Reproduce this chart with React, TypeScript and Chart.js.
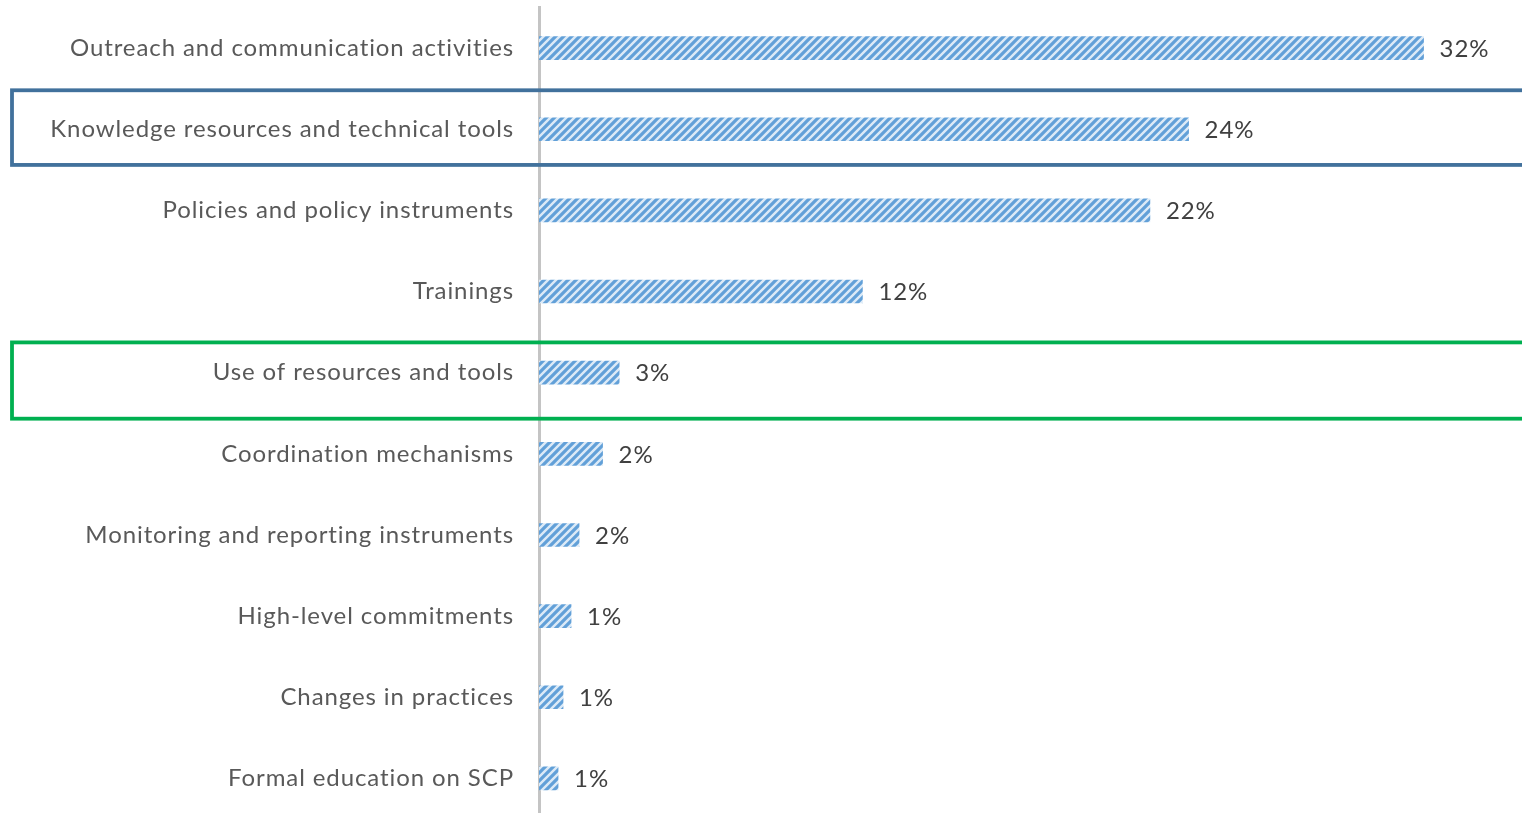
import React, { useEffect, useRef } from "react";
import { Chart, registerables } from "chart.js";

Chart.register(...registerables);

const categories = [
  "Outreach and communication activities",
  "Knowledge resources and technical tools",
  "Policies and policy instruments",
  "Trainings",
  "Use of resources and tools",
  "Coordination mechanisms",
  "Monitoring and reporting instruments",
  "High-level commitments",
  "Changes in practices",
  "Formal education on SCP",
];

const values = [32, 23.5, 22.1, 11.7, 2.9, 2.3, 1.45, 1.16, 0.87, 0.69];

const valueLabels = ["32%", "24%", "22%", "12%", "3%", "2%", "2%", "1%", "1%", "1%"];

const highlights = [
  { category: "Knowledge resources and technical tools", color: "#41719C", top: -0.48, bottom: 0.44 },
  { category: "Use of resources and tools", color: "#00B050", top: -0.373, bottom: 0.567 },
];

function makePattern(): CanvasPattern | string {
  const size = 8;
  const c = document.createElement("canvas");
  c.width = size;
  c.height = size;
  const ctx = c.getContext("2d");
  if (!ctx) return "#5B9BD5";
  ctx.fillStyle = "#DCEAF7";
  ctx.fillRect(0, 0, size, size);
  ctx.strokeStyle = "#62A0D8";
  ctx.lineWidth = 3.2;
  ctx.lineCap = "square";
  for (const off of [-size, 0, size]) {
    ctx.beginPath();
    ctx.moveTo(off - 2, size + 2);
    ctx.lineTo(off + size + 2, -2);
    ctx.stroke();
  }
  const p = ctx.createPattern(c, "repeat");
  return p || "#5B9BD5";
}

const spacingPlugin = {
  id: "letterSpacing",
  beforeLayout(chart: any) {
    (chart.ctx as any).letterSpacing = "0.9px";
  },
  beforeDraw(chart: any) {
    (chart.ctx as any).letterSpacing = "0.9px";
  },
};

const valueLabelPlugin = {
  id: "valueLabels",
  afterDatasetsDraw(chart: any) {
    const { ctx } = chart;
    const meta = chart.getDatasetMeta(0);
    ctx.save();
    ctx.font = "24px Lato";
    ctx.fillStyle = "#404040";
    ctx.textAlign = "left";
    ctx.textBaseline = "middle";
    meta.data.forEach((bar: any, i: number) => {
      ctx.fillText(valueLabels[i], bar.x + 16, bar.y + 1);
    });
    ctx.restore();
  },
};

const highlightPlugin = {
  id: "highlightBoxes",
  afterDraw(chart: any) {
    const { ctx } = chart;
    const yScale = chart.scales.y;
    const rowH = (yScale.bottom - yScale.top) / categories.length;
    ctx.save();
    ctx.lineWidth = 3.8;
    highlights.forEach((h) => {
      const idx = categories.indexOf(h.category);
      const cy = yScale.getPixelForValue(idx);
      const top = cy + h.top * rowH;
      const bottom = cy + h.bottom * rowH;
      ctx.strokeStyle = h.color;
      ctx.strokeRect(12, top, chart.width + 20, bottom - top);
    });
    ctx.restore();
  },
};

export default function App() {
  const ref = useRef<HTMLCanvasElement>(null);

  useEffect(() => {
    if (!ref.current) return;
    const chart = new Chart(ref.current, {
      type: "bar",
      data: {
        labels: categories,
        datasets: [
          {
            data: values,
            backgroundColor: makePattern() as any,
            borderWidth: 0,
            barThickness: 23,
          },
        ],
      },
      options: {
        indexAxis: "y",
        responsive: false,
        animation: false,
        layout: { padding: { top: 7.5, right: 15.5, left: 0, bottom: 0 } },
        plugins: {
          legend: { display: false },
          tooltip: { enabled: false },
        },
        scales: {
          x: {
            display: false,
            min: 0,
            max: 35,
          },
          y: {
            afterFit(scale: any) {
              scale.width = 539;
              scale.paddingTop = 0;
              scale.paddingBottom = 0;
            },
            grid: { display: false },
            border: { display: true, color: "#C4C4C4", width: 3 },
            ticks: {
              padding: 17,
              color: "#595959",
              font: { family: "Lato", size: 24 },
            },
          },
        },
      },
      plugins: [spacingPlugin, valueLabelPlugin, highlightPlugin],
    });
    return () => chart.destroy();
  }, []);

  return (
    <div
      style={{
        position: "fixed",
        left: 0,
        top: 0,
        width: 1522,
        height: 813,
        overflow: "hidden",
        background: "#fff",
      }}
    >
      <canvas ref={ref} width={1522} height={819} style={{ display: "block" }} />
    </div>
  );
}
